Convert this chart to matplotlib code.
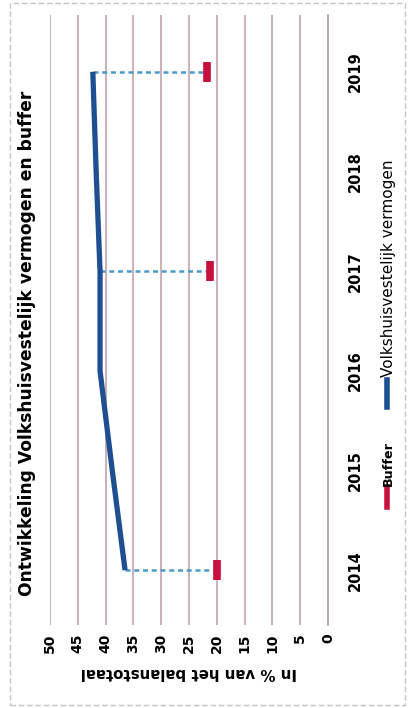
import matplotlib.pyplot as plt
from matplotlib.lines import Line2D
from matplotlib.patches import Rectangle

# data (original chart is rotated 90 degrees counter-clockwise)
years = [2014, 2015, 2016, 2017, 2018, 2019]
vermogen = [36.5, 38.8, 41.0, 41.0, 41.7, 42.3]
buffer_years = [2014, 2017, 2019]
buffer_vals = [20.0, 21.2, 21.8]
value_ticks = [0, 5, 10, 15, 20, 25, 30, 35, 40, 45, 50]

title = "Ontwikkeling Volkshuisvestelijk vermogen en buffer"
ylabel = "In % van het balanstotaal"

blue = "#1f4f93"
red = "#c8103e"
drop = "#4a9acb"
grid = "#c9aab0"

fig = plt.figure(figsize=(4.09, 7.08), dpi=100)
W, H = 409, 708
ax = fig.add_axes([50 / W, 1 - 625 / H, (328 - 50) / W, (625 - 15) / H])

ax.set_xlim(50, 0)
ax.set_ylim(2013.45, 2019.57)

for v in value_ticks[1:]:
    ax.axvline(v, color=grid, lw=1.3, zorder=0)

ax.plot(vermogen, years, color=blue, lw=3.8, solid_capstyle="butt", zorder=3)

for yr, b in zip(buffer_years, buffer_vals):
    v = vermogen[years.index(yr)]
    ax.plot([v, b], [yr, yr], color=drop, lw=1.8, ls=(0, (2, 1.5)), zorder=2)
ax.plot(buffer_vals, buffer_years, ls="none", marker="|", ms=14, mew=5.5,
        color=red, zorder=4)

for s in ["top", "bottom", "left"]:
    ax.spines[s].set_visible(False)
ax.spines["right"].set_color("#a89a9c")
ax.spines["right"].set_linewidth(1.2)

ax.set_xticks(value_ticks)
ax.set_xticklabels([str(v) for v in value_ticks], rotation=90,
                   fontweight="bold", fontsize=10)
ax.tick_params(axis="x", length=0, pad=6)

ax.yaxis.tick_right()
ax.set_yticks(years)
ax.set_yticklabels([str(y) for y in years], rotation=90, va="center",
                   fontweight="bold", fontsize=10.5)
ax.tick_params(axis="y", length=0, pad=14)

fig.text(27 / W, 1 - 343 / H, title, rotation=90, ha="center", va="center",
         fontweight="bold", fontsize=12.3)
fig.text(189 / W, 1 - 672 / H, ylabel, rotation=180, ha="center",
         va="center", fontweight="bold", fontsize=10.8)

# legend drawn by hand, rotated
fig.add_artist(Line2D([387 / W, 387 / W], [1 - 507 / H, 1 - 487 / H],
                      color=red, lw=4))
fig.text(388 / W, 1 - 463 / H, "Buffer", rotation=90, ha="center",
         va="center", fontsize=9.2, fontweight="bold")
fig.add_artist(Line2D([387 / W, 387 / W], [1 - 407 / H, 1 - 380 / H],
                      color=blue, lw=4))
fig.text(388 / W, 1 - 268 / H, "Volkshuisvestelijk vermogen", rotation=90,
         ha="center", va="center", fontsize=11)

# faint scan border
fig.add_artist(Rectangle((10 / W, 3 / H), 395 / W, 702 / H,
                         transform=fig.transFigure, fill=False,
                         edgecolor="#c8c0c2", lw=1.0, ls=(0, (4, 2))))

fig.savefig("out.png", dpi=100)
